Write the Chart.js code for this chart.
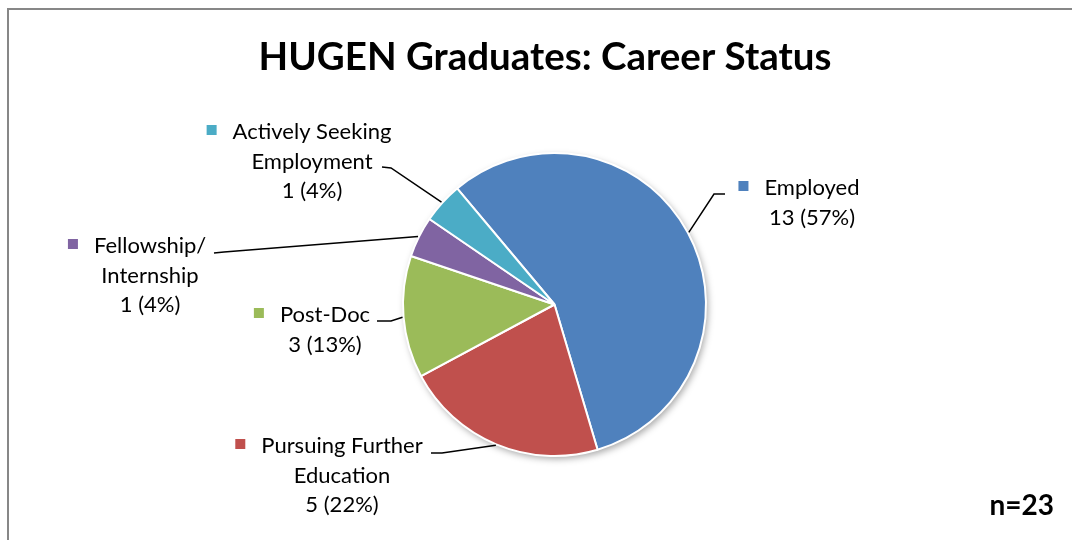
<!DOCTYPE html>
<html>
<head>
<meta charset="utf-8">
<script src="https://cdn.jsdelivr.net/npm/chart.js@4.4.0/dist/chart.umd.min.js"></script>
<style>
html, body { margin: 0; padding: 0; background: #fff; }
</style>
</head>
<body>
<canvas id="Rond" width="1072" height="540"></canvas>
<script>
var titre = 'HUGEN Graduates: Career Status';
var note = 'n=23';
var categories = ['Employed', 'Pursuing Further Education', 'Post-Doc', 'Fellowship/Internship', 'Actively Seeking Employment'];
var valeurs = [13, 5, 3, 1, 1];
var couleurs = ['#4F81BD', '#C0504D', '#9BBB59', '#8064A2', '#4BACC6'];
// texte des etiquettes, coupe comme dans l'image
var lignes = [['Employed'], ['Pursuing Further', 'Education'], ['Post-Doc'], ['Fellowship/', 'Internship'], ['Actively Seeking', 'Employment']];

// mise en page des etiquettes : centre du texte, ligne de base, point de depart du trait
var place = [
    { cx: 812, y: 195, a: [725, 194], b: [714, 194] },
    { cx: 342, y: 453, a: [431, 453], b: [442, 453] },
    { cx: 325, y: 322, a: [377, 321], b: [391, 321] },
    { cx: 150, y: 253, a: [214, 253], b: [224, 252] },
    { cx: 312, y: 139, a: [382, 167], b: [391, 168] }
];

var POLICE = 'Lato, "Open Sans", sans-serif';

function total(lis) {
    var s = 0;
    for (var i = 0; i < lis.length; i++) s = s + lis[i];
    return s;
}

var cadre = {
    id: 'cadre',
    beforeDraw: function (chart) {
        var ctx = chart.ctx;
        ctx.save();
        ctx.fillStyle = '#fff';
        ctx.fillRect(0, 0, chart.width, chart.height);
        ctx.strokeStyle = '#878787';
        ctx.lineWidth = 2;
        ctx.beginPath();
        ctx.moveTo(8, chart.height);
        ctx.lineTo(8, 9);
        ctx.lineTo(chart.width, 9);
        ctx.stroke();
        ctx.restore();
    }
};

var ombre = {
    id: 'ombre',
    beforeDatasetsDraw: function (chart) {
        var arc = chart.getDatasetMeta(0).data[0];
        if (!arc) return;
        var ctx = chart.ctx;
        ctx.save();
        ctx.shadowColor = 'rgba(0,0,0,0.35)';
        ctx.shadowBlur = 7;
        ctx.shadowOffsetX = 2;
        ctx.shadowOffsetY = 3;
        ctx.fillStyle = '#fff';
        ctx.beginPath();
        ctx.arc(arc.x, arc.y, arc.outerRadius, 0, Math.PI * 2);
        ctx.fill();
        ctx.restore();
    }
};

var etiquettes = {
    id: 'etiquettes',
    afterDatasetsDraw: function (chart) {
        var ctx = chart.ctx;
        var meta = chart.getDatasetMeta(0);
        var somme = total(valeurs);
        ctx.save();

        // titre et n
        ctx.fillStyle = '#000';
        ctx.textBaseline = 'alphabetic';
        ctx.font = 'bold 38.5px ' + POLICE;
        ctx.textAlign = 'center';
        ctx.fillText(titre, 545, 70);
        ctx.font = 'bold 28px ' + POLICE;
        ctx.textAlign = 'right';
        ctx.fillText(note, 1054, 515);

        ctx.font = '22px ' + POLICE;
        for (var i = 0; i < valeurs.length; i++) {
            var arc = meta.data[i];
            var p = place[i];
            var txt = lignes[i].concat([valeurs[i] + ' (' + Math.round(valeurs[i] / somme * 100) + '%)']);

            // trait de rappel jusqu'au bord de la part
            var mid = (arc.startAngle + arc.endAngle) / 2;
            var r = arc.outerRadius + 1;
            ctx.strokeStyle = '#000';
            ctx.lineWidth = 1.5;
            ctx.beginPath();
            ctx.moveTo(p.a[0], p.a[1]);
            ctx.lineTo(p.b[0], p.b[1]);
            ctx.lineTo(arc.x + Math.cos(mid) * r, arc.y + Math.sin(mid) * r);
            ctx.stroke();

            ctx.textAlign = 'center';
            ctx.fillStyle = '#000';
            for (var k = 0; k < txt.length; k++) {
                ctx.fillText(txt[k], p.cx, p.y + k * 29.5);
            }
            // petit carre de couleur
            var w = ctx.measureText(txt[0]).width;
            ctx.fillStyle = couleurs[i];
            ctx.fillRect(p.cx - w / 2 - 26, p.y - 14, 10, 10);
        }
        ctx.restore();
    }
};

new Chart(document.getElementById('Rond'), {
    type: 'pie',
    data: {
        labels: categories,
        datasets: [{
            data: valeurs,
            backgroundColor: couleurs,
            borderColor: '#fff',
            borderWidth: 2
        }]
    },
    options: {
        responsive: false,
        animation: false,
        events: [],
        rotation: -40,
        layout: { padding: { top: 152, bottom: 83, left: 199, right: 162 } },
        plugins: {
            legend: { display: false },
            title: { display: false },
            tooltip: { enabled: false }
        }
    },
    plugins: [cadre, ombre, etiquettes]
});
</script>
</body>
</html>
